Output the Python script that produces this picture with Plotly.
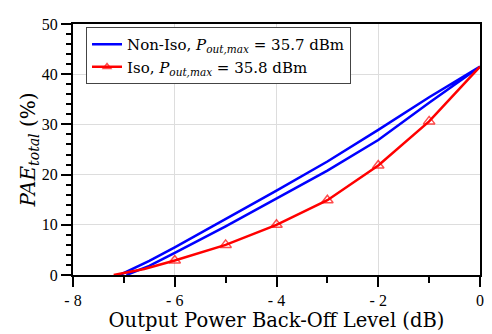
import plotly.graph_objects as go

# Non-Iso (blue) hysteresis-like loop: upper branch then lower branch
noniso_up_x = [-7.08, -6.5, -6, -5, -4, -3, -2, -1, 0]
noniso_up_y = [0, 2.8, 5.5, 11.1, 16.8, 22.6, 28.9, 35.4, 41.5]
noniso_lo_x = [0, -1, -2, -3, -4, -5, -6, -6.5, -6.95]
noniso_lo_y = [41.5, 34.3, 26.9, 20.8, 15.2, 9.7, 4.4, 1.8, 0]

# Iso (red)
iso_x = [-7.2, -6.6, -6, -5, -4, -3, -2, -1, 0]
iso_y = [0, 1.2, 2.9, 6.0, 10.0, 14.9, 21.8, 30.6, 41.5]
iso_marker = [False, False, True, True, True, True, True, True, False]

x_tickvals = [-8, -6, -4, -2, 0]
x_ticktext = ["- 8", "- 6", "- 4", "- 2", "0"]
y_tickvals = [0, 10, 20, 30, 40, 50]

tick_font = "Liberation Serif, serif"
text_font = "DejaVu Serif, serif"

fig = go.Figure()
fig.add_trace(go.Scatter(
    x=noniso_up_x + noniso_lo_x, y=noniso_up_y + noniso_lo_y,
    mode="lines", line=dict(color="#0000FF", width=2.5),
    name="Non-Iso, <i>P</i><sub><i>out,max</i></sub> = 35.7 dBm",
))
fig.add_trace(go.Scatter(
    x=iso_x, y=iso_y, mode="lines+markers",
    line=dict(color="#FF0000", width=2.5),
    marker=dict(symbol="triangle-up-open", color="#FF0000",
                size=[10 if m else 0 for m in iso_marker], line=dict(width=1.5, color="#FF0000")),
    name="Iso, <i>P</i><sub><i>out,max</i></sub> = 35.8 dBm",
))

# the page body adds an 8 px margin, so the figure is sized/offset to compensate
fig.update_layout(
    width=484, height=326,
    margin=dict(l=65, r=8, t=8, b=59),
    paper_bgcolor="white", plot_bgcolor="white",
    font=dict(family=tick_font, size=15, color="black"),
    showlegend=True,
    legend=dict(x=0.032, y=0.988, xanchor="left", yanchor="top",
                bgcolor="white", bordercolor="#444444", borderwidth=1,
                font=dict(family=text_font, size=15), tracegroupgap=0),
    xaxis=dict(range=[-8, 0], tickvals=x_tickvals, ticktext=x_ticktext,
               showgrid=True, gridcolor="#DDDDDD", gridwidth=1.2,
               zeroline=False, showline=True, linecolor="black", linewidth=2,
               mirror=True, ticks="outside", ticklen=10, tickwidth=1.5, tickcolor="black",
               minor=dict(dtick=1, ticks="outside", ticklen=6, tickwidth=1.5, tickcolor="black", showgrid=False),
               title=dict(text="Output Power Back-Off Level (dB)",
                          font=dict(family=text_font, size=19.5), standoff=3),
               tickfont=dict(size=16)),
    yaxis=dict(range=[0, 50], tickvals=y_tickvals,
               showgrid=True, gridcolor="#DDDDDD", gridwidth=1.2,
               zeroline=False, showline=True, linecolor="black", linewidth=2,
               mirror=True, ticks="outside", ticklen=10, tickwidth=1.5, tickcolor="black",
               minor=dict(dtick=2, ticks="outside", ticklen=5, tickwidth=1.5, tickcolor="black", showgrid=False),
               title=dict(text="<i>PAE</i><sub><i>total</i></sub> (%)",
                          font=dict(family=text_font, size=20), standoff=0),
               tickfont=dict(size=16)),
)

fig.write_html("out.html")
